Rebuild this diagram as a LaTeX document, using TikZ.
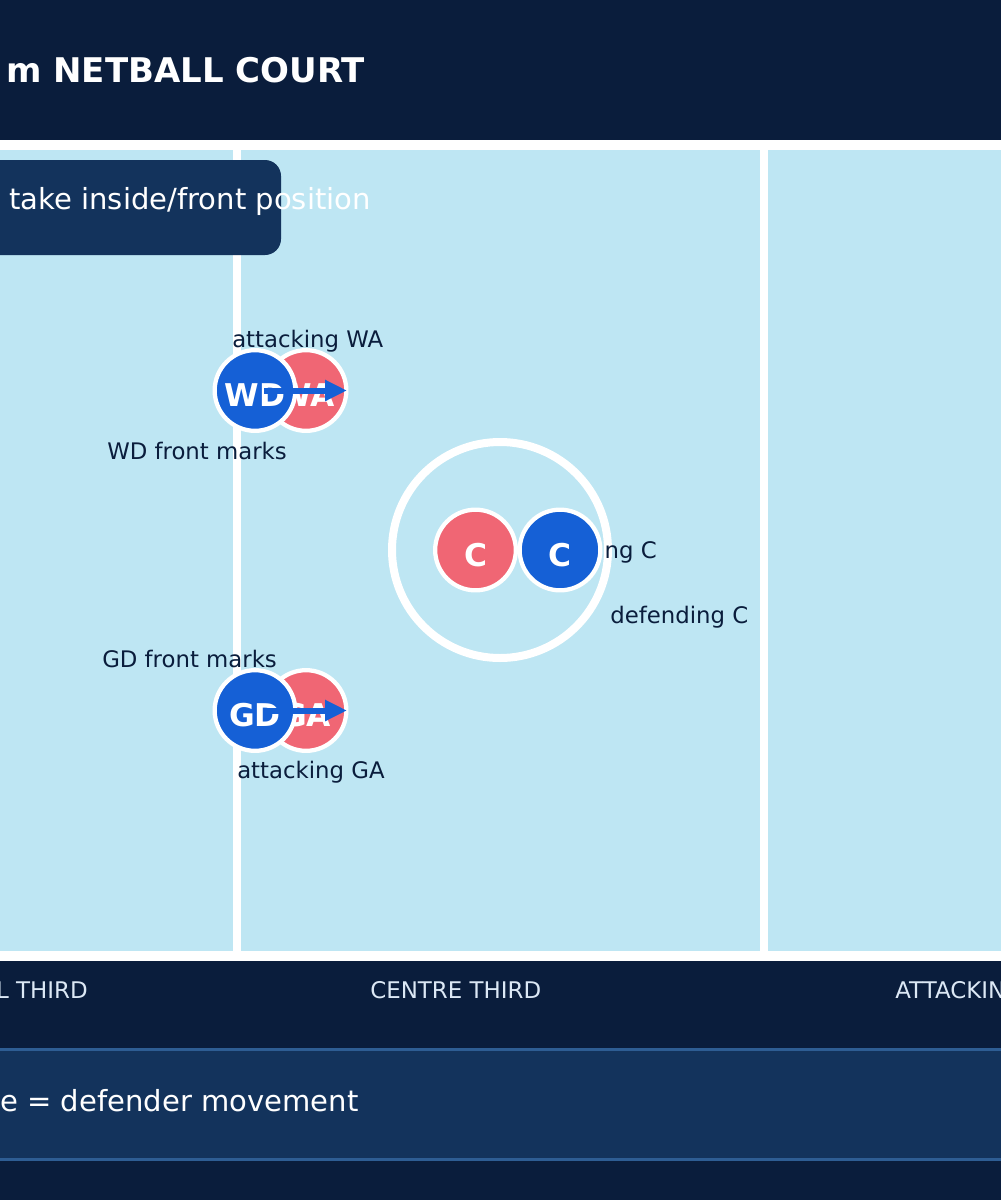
\documentclass[tikz,border=0pt]{standalone}
\usepackage{fontspec}
\setmainfont{DejaVu Sans}
\usetikzlibrary{arrows.meta}
\definecolor{navy}{HTML}{0A1D3C}
\definecolor{boxblue}{HTML}{13335C}
\definecolor{court}{HTML}{BEE6F3}
\definecolor{pblue}{HTML}{1560D6}
\definecolor{pred}{HTML}{F06674}
\definecolor{edgeblue}{HTML}{2E5D93}
\definecolor{lightlab}{HTML}{DCE8F5}
\tikzset{
  px/.style={x=0.75pt,y=-0.75pt},
  attacker/.style={circle,fill=pred,draw=white,line width=3.2pt,minimum size=60.5pt,inner sep=0pt},
  defender/.style={circle,fill=pblue,draw=white,line width=3.2pt,minimum size=60.5pt,inner sep=0pt},
  plabel/.style={text=white,font=\fontsize{23.5}{25}\selectfont\bfseries,inner sep=0pt},
  courtlab/.style={text=navy,font=\fontsize{17.1}{19}\selectfont,inner sep=0pt,anchor=base west},
  thirdlab/.style={text=lightlab,font=\fontsize{17.2}{19}\selectfont,inner sep=0pt,anchor=base west},
  bigtext/.style={text=white,font=\fontsize{21.8}{24}\selectfont,inner sep=0pt,anchor=base west},
  movearrow/.style={draw=pblue,line width=4.5pt,-{Triangle[length=16.5pt,width=15pt]}},
}
\begin{document}
\begin{tikzpicture}[px]
\useasboundingbox (0,0) rectangle (1000,1200);
% backgrounds
\fill[navy] (-10,-10) rectangle (1010,1210);
\fill[white] (-10,140) rectangle (1010,961);
\fill[court] (-10,150) rectangle (233,951);
\fill[court] (241,150) rectangle (760,951);
\fill[court] (768,150) rectangle (1010,951);
% title
\node[text=white,font=\fontsize{25.5}{28}\selectfont\bfseries,inner sep=0pt,anchor=base west] (title) at (6,82) {m NETBALL COURT};
% instruction box
\fill[boxblue,rounded corners=12pt] (-40,160) rectangle (281,255);
\node[bigtext] (tip) at (9,209) {take inside/front position};
% centre circle
\draw[white,line width=6pt] (500,550) circle (108);
% WD / WA
\node[attacker] (wa) at (306,390.5) {};
\node[plabel] (walab) at (306,395) {WA};
\node[defender] (wd) at (255,390.5) {};
\node[plabel] (wdlab) at (255,395) {WD};
\coordinate (wastart) at (264,390.5);
\coordinate (waend) at (347,390.5);
\draw[movearrow] (wastart) -- (waend);
\node[courtlab] (lwa) at (232,347) {attacking WA};
\node[courtlab] (lwd) at (107,459) {WD front marks};
% GD / GA
\node[attacker] (ga) at (306,710.5) {};
\node[plabel] (galab) at (306,715) {GA};
\node[defender] (gd) at (255,710.5) {};
\node[plabel] (gdlab) at (255,715) {GD};
\coordinate (gastart) at (264,710.5);
\coordinate (gaend) at (347,710.5);
\draw[movearrow] (gastart) -- (gaend);
\node[courtlab] (lgd) at (102,667) {GD front marks};
\node[courtlab] (lga) at (237,778) {attacking GA};
% centres
\node[courtlab,anchor=base east] (lac) at (657,558) {ng C};
\node[attacker] (ca) at (475.5,550) {};
\node[plabel] (calab) at (475.5,555) {C};
\node[defender] (cd) at (560,550) {};
\node[plabel] (cdlab) at (560,555) {C};
\node[courtlab] (ldc) at (610,623) {defending C};
% thirds labels
\node[thirdlab,anchor=base east] (t1) at (88,998) {L THIRD};
\node[thirdlab] (t2) at (370,998) {CENTRE THIRD};
\node[thirdlab] (t3) at (895,998) {ATTACKIN};
% legend
\fill[boxblue] (-10,1049.5) rectangle (1010,1159.5);
\draw[edgeblue,line width=2.2pt] (-10,1049.5) -- (1010,1049.5);
\draw[edgeblue,line width=2.2pt] (-10,1159.5) -- (1010,1159.5);
\node[bigtext] (legend) at (0,1111) {e = defender movement};
\end{tikzpicture}
\end{document}
